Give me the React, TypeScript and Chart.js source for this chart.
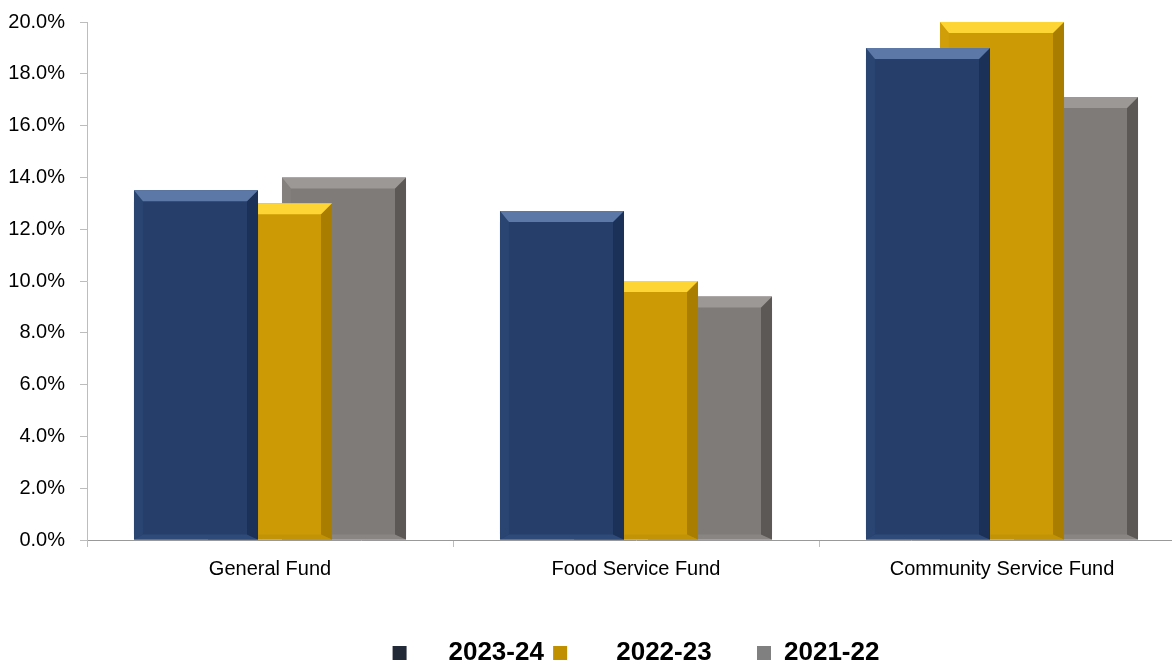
import React, { useEffect, useRef } from "react";
import { Chart, registerables } from "chart.js";

Chart.register(...registerables);

const categories = ["General Fund", "Food Service Fund", "Community Service Fund"];
const seriesNames = ["2023-24", "2022-23", "2021-22"];
const values2023 = [13.5, 12.7, 19.0];
const values2022 = [13.0, 10.0, 20.0];
const values2021 = [14.0, 9.4, 17.1];

// styles
const bodyColors = ["#253f6a", "#cc9a04", "#7f7b78"];
const topColors = ["#5b78a7", "#fdd534", "#9c9896"];
const rightColors = ["#1b3157", "#a87d00", "#5c5856"];
const leftColors = ["#2a4572", "#d09e08", "#84807d"];
const bottomColors = ["#2e4a78", "#c29306", "#898582"];
const legendColors = ["#222a38", "#c09000", "#808080"];
// legend texts with spacing to mimic the original legend cell layout
const legendTexts = ["    2023-24 ", "     2022-23      ", "2021-22"];

const bevelPlugin = {
  id: "bevel",
  afterDatasetDraw(chart: any, args: any) {
    const ctx = chart.ctx;
    const meta = args.meta;
    const di = args.index;
    meta.data.forEach((bar: any) => {
      const p = bar.getProps(["x", "y", "base", "width"], true);
      const l = p.x - p.width / 2;
      const r = p.x + p.width / 2;
      const t = p.y;
      const b = p.base;
      const bt = 11, br = 11, bl = 9, bb = 5;
      const poly = (pts: number[][], c: string) => {
        ctx.beginPath();
        ctx.moveTo(pts[0][0], pts[0][1]);
        for (let i = 1; i < pts.length; i++) ctx.lineTo(pts[i][0], pts[i][1]);
        ctx.closePath();
        ctx.fillStyle = c;
        ctx.fill();
      };
      ctx.save();
      poly([[l, b], [l + bl, b - bb], [r - br, b - bb], [r, b]], bottomColors[di]);
      poly([[l, t], [l + bl, t + bt], [l + bl, b - bb], [l, b]], leftColors[di]);
      poly([[r, t], [r, b], [r - br, b - bb], [r - br, t + bt]], rightColors[di]);
      poly([[l, t], [r, t], [r - br, t + bt], [l + bl, t + bt]], topColors[di]);
      ctx.restore();
    });
  },
};

const legendPlace = {
  id: "legendPlace",
  afterLayout(chart: any) {
    const lg = chart.legend;
    const ca = chart.chartArea;
    if (!lg) return;
    lg.left = ca.left;
    lg.right = ca.right;
    lg.top += 7;
    lg.bottom += 7;
  },
};

export default function App() {
  const ref = useRef<HTMLCanvasElement | null>(null);
  useEffect(() => {
    if (!ref.current) return;
    const allValues = [values2023, values2022, values2021];
    const chart = new Chart(ref.current, {
      type: "bar",
      data: {
        labels: categories,
        datasets: allValues.map((v, i) => ({
          label: seriesNames[i],
          data: v,
          backgroundColor: bodyColors[i],
          borderWidth: 0,
          barPercentage: 1.676,
          categoryPercentage: 0.6066,
        })),
      },
      options: {
        responsive: false,
        animation: false,
        devicePixelRatio: 1,
        layout: { padding: { top: 22, left: 0, right: 0, bottom: 0 } },
        plugins: {
          tooltip: { enabled: false },
          legend: {
            position: "bottom",
            labels: {
              boxWidth: 14,
              boxHeight: 14,
              padding: 2,
              color: "#000",
              font: { family: "'Liberation Sans', Arial", size: 26, weight: "bold" },
              generateLabels: () =>
                legendTexts.map((t, i) => ({
                  text: t,
                  fillStyle: legendColors[i],
                  strokeStyle: legendColors[i],
                  lineWidth: 0,
                  hidden: false,
                  datasetIndex: i,
                  fontColor: "#000",
                })),
            },
          },
        },
        scales: {
          x: {
            afterFit: (s: any) => { s.height = 91; s.paddingLeft = 0; s.paddingRight = 0; },
            grid: { drawOnChartArea: false, tickLength: 7, color: "#bdbdbd", offset: true },
            border: { color: "#999999" },
            ticks: { color: "#000", padding: 10, font: { family: "'Liberation Sans', Arial", size: 20 } },
          },
          y: {
            min: 0,
            max: 20,
            afterFit: (s: any) => { s.width = 87; s.paddingTop = 0; s.paddingBottom = 0; },
            grid: { drawOnChartArea: false, tickLength: 7, color: "#bdbdbd" },
            border: { color: "#bdbdbd" },
            ticks: {
              stepSize: 2,
              color: "#000",
              padding: 15,
              font: { family: "'Liberation Sans', Arial", size: 20 },
              callback: (v: any) => Number(v).toFixed(1) + "%",
            },
          },
        },
      },
      plugins: [bevelPlugin, legendPlace],
    });
    return () => chart.destroy();
  }, []);
  return (
    <div style={{ position: "fixed", left: 0, top: 0, width: 1172, height: 669, overflow: "hidden", background: "#fff" }}>
      <canvas ref={ref} width={1185} height={669} style={{ display: "block" }} />
    </div>
  );
}
